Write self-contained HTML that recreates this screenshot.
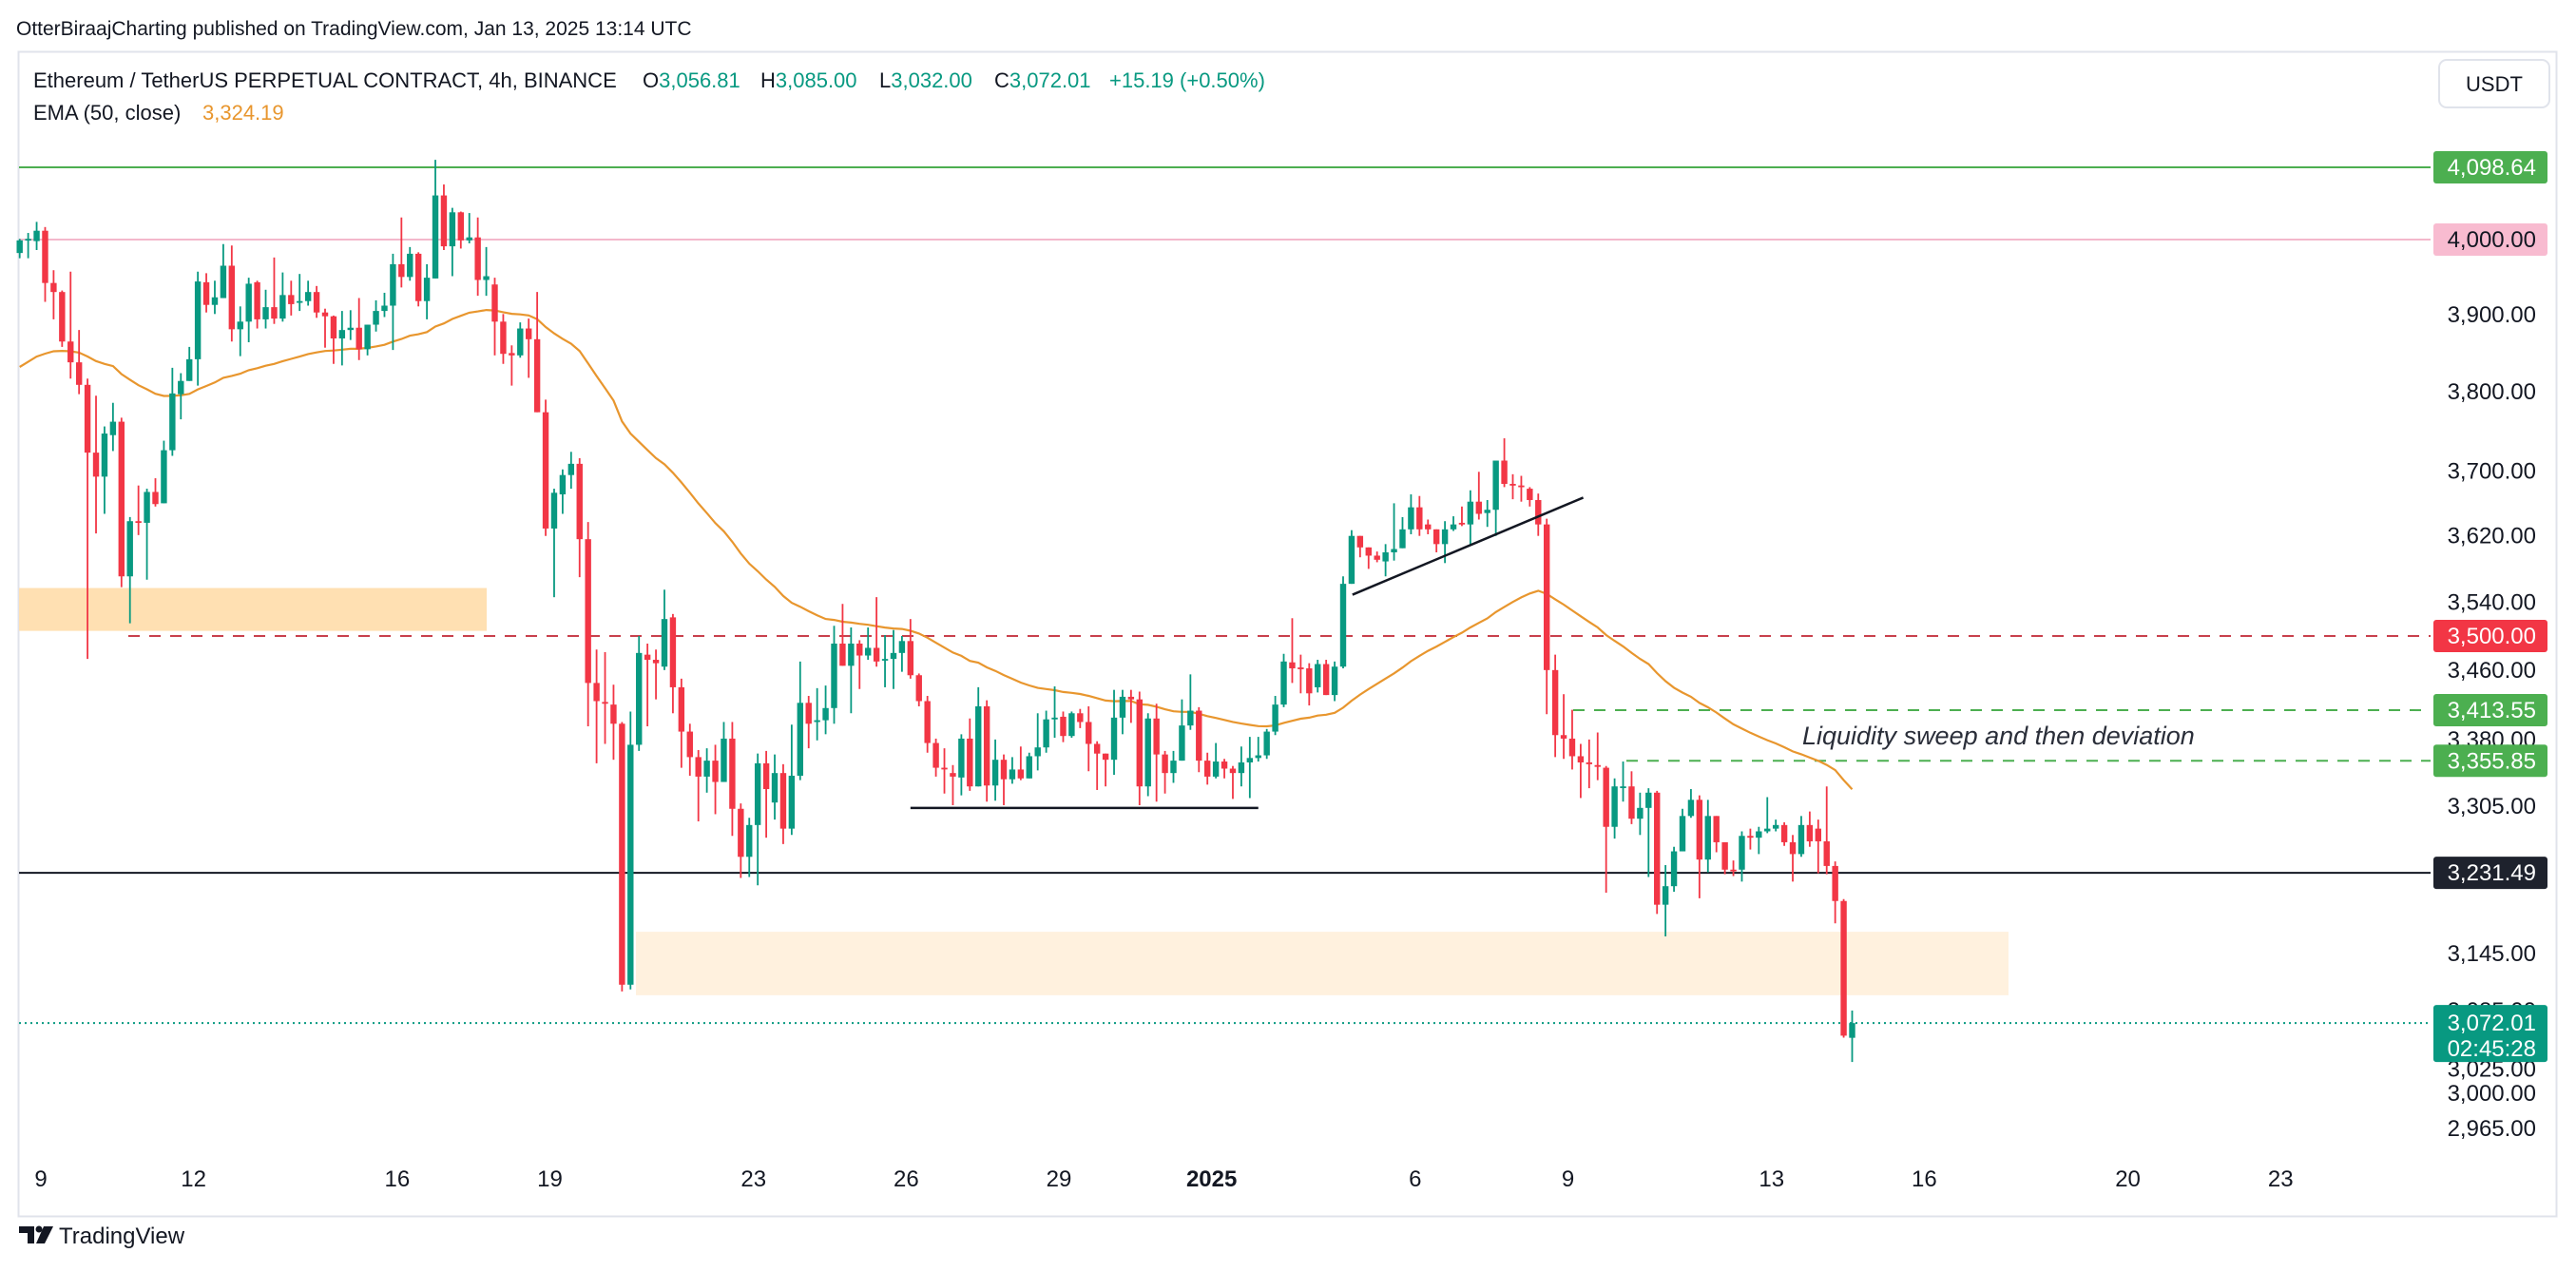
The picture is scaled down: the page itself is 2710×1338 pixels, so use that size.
<!DOCTYPE html>
<html><head><meta charset="utf-8"><title>ETHUSDT chart</title>
<style>
html,body{margin:0;padding:0;background:#fff;}
svg{display:block;font-family:"Liberation Sans",sans-serif;}
</style></head>
<body>
<svg id="chart" width="2710" height="1338" viewBox="0 0 2710 1338" xmlns="http://www.w3.org/2000/svg">
  <rect x="0" y="0" width="2710" height="1338" fill="#ffffff"/>
  <text x="17" y="37" font-size="21" fill="#131722">OtterBiraajCharting published on TradingView.com, Jan 13, 2025 13:14 UTC</text>
  <rect x="19.5" y="54.5" width="2670" height="1225" fill="none" stroke="#e0e3eb" stroke-width="2"/>
  <g font-size="22">
    <text x="35" y="92" fill="#131722">Ethereum / TetherUS PERPETUAL CONTRACT, 4h, BINANCE</text>
    <text x="676" y="92" fill="#131722">O<tspan fill="#089981">3,056.81</tspan></text>
    <text x="800" y="92" fill="#131722">H<tspan fill="#089981">3,085.00</tspan></text>
    <text x="925" y="92" fill="#131722">L<tspan fill="#089981">3,032.00</tspan></text>
    <text x="1046" y="92" fill="#131722">C<tspan fill="#089981">3,072.01</tspan></text>
    <text x="1167" y="92" fill="#089981">+15.19 (+0.50%)</text>
  </g>
  <g font-size="22">
    <text x="35" y="126" fill="#131722">EMA (50, close)</text>
    <text x="213" y="126" fill="#e8962e">3,324.19</text>
  </g>
  <g>
    <rect x="2566" y="63" width="116" height="50" rx="8" fill="#fff" stroke="#e0e3eb" stroke-width="2"/>
    <text x="2624" y="96" font-size="22" fill="#131722" text-anchor="middle">USDT</text>
  </g>
  <g id="zones"></g>
  <g id="levels"></g>
  <g id="ema"></g>
  <g id="candles"></g>
  <g id="drawings"></g>
  <g id="yaxis"></g>
  <g id="xaxis"></g>
  <g>
    <path d="M20 1290 h16 v18 h-7 v-11 h-9z" fill="#131722"/>
    <circle cx="41" cy="1293" r="3.5" fill="#131722"/>
    <path d="M46 1290 h10 l-9 18 h-9z" fill="#131722"/>
    <text x="62" y="1308" font-size="24" fill="#131722">TradingView</text>
  </g>
</svg>
<script>
const opens=[3982,3999,3998,4012,3942,3930,3865,3838,3809,3723,3693,3745,3762,3571,3638,3636,3674,3660,3726,3797,3814,3842,3943,3913,3922,3965,3881,3891,3943,3894,3910,3895,3926,3917,3918,3930,3903,3898,3869,3880,3883,3855,3887,3905,3912,3967,3950,3981,3918,3948,4060,3991,4037,3999,4003,3946,3940,3891,3850,3847,3882,3868,3774,3629,3671,3695,3709,3616,3445,3423,3420,3398,3112,3374,3478,3472,3464,3522,3440,3389,3360,3338,3356,3332,3381,3302,3249,3284,3353,3309,3342,3280,3339,3422,3400,3402,3416,3491,3465,3491,3477,3486,3472,3473,3480,3494,3454,3424,3376,3348,3342,3337,3381,3327,3418,3328,3357,3335,3346,3336,3361,3371,3403,3406,3384,3410,3400,3375,3364,3357,3405,3429,3426,3327,3404,3363,3342,3356,3396,3413,3356,3338,3355,3347,3342,3354,3359,3362,3389,3420,3469,3463,3462,3440,3467,3431,3464,3562,3620,3606,3596,3589,3600,3605,3628,3655,3634,3628,3610,3628,3636,3634,3662,3648,3652,3713,3684,3682,3678,3664,3634,3460,3385,3381,3361,3354,3351,3348,3282,3327,3327,3291,3303,3320,3197,3217,3255,3294,3312,3246,3294,3265,3235,3235,3272,3270,3277,3280,3284,3265,3252,3284,3280,3266,3239,3201,3056.81];
const highs=[4001,4009,4024,4017,3959,3932,3957,3880,3817,3795,3756,3786,3767,3643,3682,3678,3691,3738,3831,3824,3858,3957,3955,3945,3994,3992,3911,3949,3945,3933,3976,3956,3945,3954,3945,3938,3908,3899,3905,3906,3922,3887,3919,3929,3981,4030,3990,3983,3967,4109,4075,4043,4038,4036,4030,3990,3949,3901,3860,3890,3895,3930,3790,3678,3702,3724,3716,3637,3484,3481,3443,3400,3412,3500,3491,3484,3555,3526,3450,3398,3368,3370,3374,3400,3400,3308,3292,3364,3367,3363,3352,3397,3470,3430,3439,3442,3512,3538,3510,3495,3510,3546,3501,3507,3500,3520,3456,3430,3381,3370,3351,3386,3404,3440,3425,3380,3363,3360,3372,3365,3410,3413,3441,3412,3412,3415,3418,3378,3364,3437,3437,3437,3435,3410,3421,3367,3367,3426,3455,3417,3365,3376,3358,3350,3372,3383,3383,3392,3430,3479,3521,3478,3468,3472,3472,3470,3571,3627,3620,3606,3601,3610,3660,3643,3671,3669,3640,3628,3638,3644,3656,3676,3699,3664,3713,3741,3696,3694,3680,3672,3641,3478,3432,3414,3375,3380,3388,3350,3336,3355,3344,3320,3325,3322,3240,3260,3302,3324,3317,3312,3294,3265,3245,3277,3280,3282,3315,3290,3287,3273,3294,3299,3290,3327,3244,3203,3085];
const lows=[3975,3975,3986,3917,3894,3858,3817,3797,3473,3623,3647,3725,3558,3515,3621,3567,3656,3660,3719,3765,3814,3808,3903,3901,3922,3865,3846,3864,3882,3882,3888,3891,3899,3905,3912,3896,3857,3836,3834,3867,3841,3847,3878,3897,3854,3936,3945,3911,3894,3948,3986,3951,3988,3995,3925,3925,3847,3836,3808,3844,3818,3774,3620,3546,3647,3678,3570,3395,3353,3375,3357,3105,3107,3367,3395,3426,3460,3410,3348,3339,3288,3320,3296,3332,3272,3226,3227,3218,3270,3290,3263,3273,3334,3370,3379,3386,3398,3465,3410,3438,3472,3464,3440,3438,3458,3450,3418,3365,3338,3319,3306,3317,3322,3327,3310,3311,3306,3330,3334,3336,3345,3365,3382,3377,3382,3393,3344,3323,3327,3340,3386,3399,3306,3316,3310,3319,3331,3356,3391,3343,3329,3336,3336,3313,3327,3314,3355,3358,3385,3417,3445,3433,3419,3434,3431,3424,3462,3562,3594,3580,3588,3571,3590,3605,3622,3620,3622,3600,3587,3626,3632,3609,3640,3631,3620,3680,3665,3662,3656,3620,3409,3360,3358,3346,3314,3325,3334,3210,3269,3310,3285,3273,3227,3187,3163,3211,3255,3292,3204,3232,3254,3230,3228,3222,3257,3252,3275,3277,3261,3222,3249,3260,3231,3230,3177,3057,3032];
const closes=[3999,4001,4012,3942,3930,3865,3838,3809,3723,3693,3747,3762,3571,3638,3636,3674,3659,3726,3798,3814,3842,3944,3913,3923,3965,3881,3891,3941,3894,3910,3895,3926,3914,3918,3930,3903,3898,3869,3880,3883,3855,3887,3905,3912,3967,3950,3981,3918,3949,4060,3991,4037,3999,4003,3946,3951,3891,3849,3847,3882,3868,3774,3629,3673,3695,3709,3616,3445,3424,3421,3398,3112,3374,3480,3472,3468,3520,3440,3389,3360,3338,3356,3332,3381,3302,3249,3284,3353,3324,3342,3280,3339,3422,3398,3402,3416,3491,3465,3491,3477,3486,3470,3473,3480,3494,3454,3424,3376,3348,3347,3338,3381,3327,3418,3328,3357,3335,3346,3336,3361,3371,3403,3405,3384,3410,3400,3375,3364,3357,3405,3429,3426,3327,3404,3363,3342,3356,3396,3413,3356,3338,3355,3347,3342,3354,3359,3362,3389,3420,3470,3462,3462,3433,3467,3431,3464,3562,3620,3606,3596,3591,3600,3604,3628,3655,3628,3628,3610,3628,3634,3634,3662,3647,3652,3713,3684,3683,3680,3664,3634,3460,3385,3381,3361,3354,3352,3349,3282,3327,3327,3291,3303,3320,3197,3217,3255,3294,3312,3246,3294,3265,3235,3234,3272,3270,3277,3280,3284,3265,3252,3284,3266,3266,3239,3201,3059,3072.01];
const emaSeed=3832;
const emaPeriod=50;
const yTicks=[3900,3800,3700,3620,3540,3460,3380,3305,3145,3085,3025,3000,2965];
const dayLabels=["9","12","16","19","23","26","29","2025","6","9","13","16","20","23"];
const dayOffsets=[0,3,7,10,14,17,20,23,27,30,34,37,41,44];
const levelGreenTop=4098.64, levelPink=4000, levelRed=3500, levelSweepHigh=3413.55, levelSweepLow=3355.85, levelBlack=3231.49, lastPrice=3072.01;
const zoneUpper=[3557,3506];
const zoneLower=[3168,3101];

const NS="http://www.w3.org/2000/svg";
const PLOT_L=20, PLOT_R=2557, AX_TOP=4098.64, Y_TOP=176, K=0.0003203;
function y(p){return Y_TOP+Math.log(AX_TOP/p)/K;}
function x(i){return 20.7+i*8.925;}
function dayX(d){return 43+d*53.55;}
function mk(tag,attrs,parent){const e=document.createElementNS(NS,tag);for(const k in attrs)e.setAttribute(k,attrs[k]);parent.appendChild(e);return e;}
function fmt(v){return v.toLocaleString('en-US',{minimumFractionDigits:2,maximumFractionDigits:2});}

const gz=document.getElementById('zones');
let z1=mk('rect',{x:PLOT_L,y:y(zoneUpper[0]),width:512-PLOT_L,height:y(zoneUpper[1])-y(zoneUpper[0]),fill:'#ffe0b2'},gz);


let z2=mk('rect',{x:669,y:y(zoneLower[0]),width:2113-669,height:y(zoneLower[1])-y(zoneLower[0]),fill:'#fff1de'},gz);



const gl=document.getElementById('levels');
let l1=mk('line',{x1:PLOT_L,x2:PLOT_R,y1:y(levelGreenTop),y2:y(levelGreenTop),stroke:'#4caf50','stroke-width':2},gl);


let l2=mk('line',{x1:PLOT_L,x2:PLOT_R,y1:y(levelPink),y2:y(levelPink),stroke:'#f3b8cb','stroke-width':2},gl);


let l3=mk('line',{x1:135,x2:PLOT_R,y1:y(levelRed),y2:y(levelRed),stroke:'#c8404c','stroke-width':2,'stroke-dasharray':'12 10'},gl);


let l4=mk('line',{x1:1655,x2:PLOT_R,y1:y(levelSweepHigh),y2:y(levelSweepHigh),stroke:'#4caf50','stroke-width':2,'stroke-dasharray':'12 10'},gl);


let l5=mk('line',{x1:1711,x2:PLOT_R,y1:y(levelSweepLow),y2:y(levelSweepLow),stroke:'#4caf50','stroke-width':2,'stroke-dasharray':'12 10'},gl);


let l6=mk('line',{x1:PLOT_L,x2:PLOT_R,y1:y(levelBlack),y2:y(levelBlack),stroke:'#131722','stroke-width':2},gl);


let l7=mk('line',{x1:PLOT_L,x2:PLOT_R,y1:y(lastPrice),y2:y(lastPrice),stroke:'#089981','stroke-width':2,'stroke-dasharray':'2 4'},gl);



const ge=document.getElementById('ema');
let ema=emaSeed, pts=[];
for(let i=0;i<closes.length;i++){
  ema = i===0 ? emaSeed : closes[i]*2/(emaPeriod+1)+ema*(emaPeriod-1)/(emaPeriod+1);
  pts.push(x(i).toFixed(1)+','+y(ema).toFixed(1));
}
let ep=mk('polyline',{points:pts.join(' '),fill:'none',stroke:'#e8962e','stroke-width':2.2},ge);



const gc=document.getElementById('candles');
for(let i=0;i<closes.length;i++){
  const up=closes[i]>=opens[i], col=up?'#089981':'#f23645', cx=x(i);
  const g=mk('g',{},gc);
  
  
  mk('line',{x1:cx,x2:cx,y1:y(highs[i]),y2:y(lows[i]),stroke:col,'stroke-width':1.8},g);
  const t=y(Math.max(opens[i],closes[i])), b=y(Math.min(opens[i],closes[i]));
  mk('rect',{x:cx-3.2,y:t,width:6.4,height:Math.max(b-t,1.8),fill:col},g);
}

const gd=document.getElementById('drawings');
let tl=mk('line',{x1:x(157.1),y1:y(3549),x2:x(184.3),y2:y(3667),stroke:'#131722','stroke-width':2.5},gd);


let sl=mk('line',{x1:x(105),y1:y(3303),x2:x(146),y2:y(3303),stroke:'#131722','stroke-width':2.5},gd);


let an=mk('text',{x:1896,y:783,'font-size':27,'font-style':'italic',fill:'#2a2e39'},gd);
an.textContent='Liquidity sweep and then deviation';



const gy=document.getElementById('yaxis');
for(const v of yTicks){
  const t=mk('text',{x:2668,y:y(v)+8,'font-size':24,fill:'#131722','text-anchor':'end'},gy);
  t.textContent=fmt(v);
  
  
}
const tags=[[levelGreenTop,'#4caf50','#fff'],[levelPink,'#f8bbd0','#131722'],[levelRed,'#f23645','#fff'],[levelSweepHigh,'#4caf50','#fff'],[levelSweepLow,'#4caf50','#fff'],[levelBlack,'#1e222d','#fff']];
for(const [v,bg,fg] of tags){
  const g=mk('g',{},gy);
  
  
  mk('rect',{x:2560,y:y(v)-17,width:120,height:34,rx:3,fill:bg},g);
  const t=mk('text',{x:2668,y:y(v)+8,'font-size':24,fill:fg,'text-anchor':'end'},g);
  t.textContent=fmt(v);
}
const lg=mk('g',{},gy);


mk('rect',{x:2560,y:y(lastPrice)-19,width:120,height:60,rx:3,fill:'#089981'},lg);
let lt=mk('text',{x:2668,y:y(lastPrice)+8,'font-size':24,fill:'#fff','text-anchor':'end'},lg);
lt.textContent=fmt(lastPrice);
let lc=mk('text',{x:2668,y:y(lastPrice)+35,'font-size':24,fill:'#fff','text-anchor':'end'},lg);
lc.textContent='02:45:28';

const gx=document.getElementById('xaxis');
for(let k=0;k<dayLabels.length;k++){
  const t=mk('text',{x:dayX(dayOffsets[k]),y:1248,'font-size':24,fill:'#131722','text-anchor':'middle','font-weight':dayLabels[k]==='2025'?'bold':'normal'},gx);
  t.textContent=dayLabels[k];
  
  
}
</script>
</body></html>
